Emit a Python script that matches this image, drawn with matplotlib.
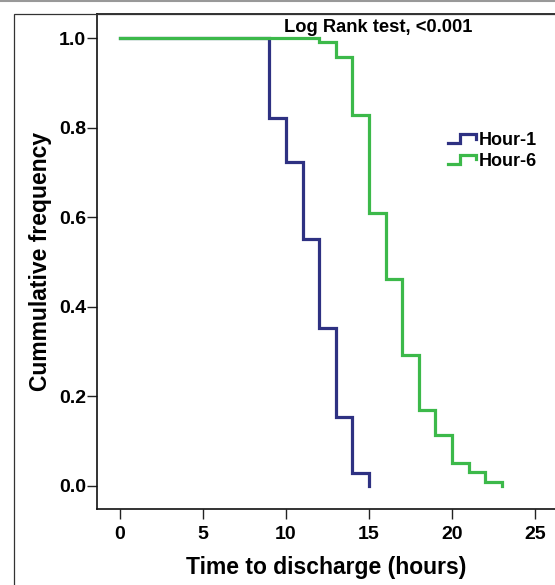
import matplotlib
matplotlib.use("Agg")
import matplotlib.pyplot as plt
from matplotlib.lines import Line2D
from matplotlib.legend_handler import HandlerBase
from matplotlib.patches import Rectangle

plt.rcParams['font.family'] = ['Liberation Sans', 'DejaVu Sans']
plt.rcParams['font.weight'] = 'bold'

# step data
hour1_t = [0, 9, 10, 11, 12, 13, 14, 15]
hour1_s = [1.0, 0.822, 0.725, 0.552, 0.354, 0.154, 0.030, 0.0]
hour6_t = [0, 12, 13, 14, 15, 16, 17, 18, 19, 20, 21, 22, 23]
hour6_s = [1.0, 0.993, 0.958, 0.828, 0.609, 0.463, 0.293, 0.169, 0.113, 0.051, 0.031, 0.010, 0.0]

xticks = [0, 5, 10, 15, 20, 25]
yticks = [0.0, 0.2, 0.4, 0.6, 0.8, 1.0]

c1 = '#2e3182'
c6 = '#3cb94a'


class StepHandler(HandlerBase):
    # legend key drawn as a little step, like SPSS does
    def create_artists(self, legend, orig_handle, xdescent, ydescent,
                       width, height, fontsize, trans):
        x0 = -xdescent
        y0 = -ydescent
        xs = [x0, x0 + 0.45 * width, x0 + 0.45 * width, x0 + width, x0 + width]
        ys = [y0 + 0.15 * height, y0 + 0.15 * height, y0 + 0.85 * height,
              y0 + 0.85 * height, y0 + 0.5 * height]
        ln = Line2D(xs, ys, color=orig_handle.get_color(),
                    lw=orig_handle.get_linewidth(), solid_joinstyle='miter')
        ln.set_transform(trans)
        return [ln]


fig = plt.figure(figsize=(5.55, 5.85), dpi=100)
ax = fig.add_axes([97 / 555, 76 / 585, 458 / 555, 495 / 585])

l1, = ax.step(hour1_t, hour1_s, where='post', color=c1, lw=2.3,
              solid_joinstyle='miter', label='Hour-1')
l6, = ax.step(hour6_t, hour6_s, where='post', color=c6, lw=2.3,
              solid_joinstyle='miter', label='Hour-6')

ax.set_xlim(-1.386, 26.2)
ax.set_ylim(-0.0514, 1.0547)
ax.set_xticks(xticks)
ax.set_yticks(yticks)
ax.set_yticklabels([f'{v:.1f}' for v in yticks])
ax.tick_params(axis='both', direction='out', length=7.5, width=1,
               labelsize=14, color='#222222')
ax.tick_params(axis='y', pad=0.5)
ax.tick_params(axis='x', pad=5)
for lab in ax.get_xticklabels() + ax.get_yticklabels():
    lab.set_fontweight('bold')

ax.spines['right'].set_visible(False)
for s in ['left', 'bottom', 'top']:
    ax.spines[s].set_linewidth(1.2)
    ax.spines[s].set_color('#111111')

ax.set_xlabel('Time to discharge (hours)', fontsize=16.5, fontweight='bold')
ax.set_ylabel('Cummulative frequency', fontsize=16.5, fontweight='bold')
ax.xaxis.set_label_coords(0.5, -0.094)
ax.yaxis.set_label_coords(-0.099, 0.5)

leg = ax.legend(handles=[l1, l6], handler_map={Line2D: StepHandler()},
                loc='center left', bbox_to_anchor=(341.5 / 458, 358 / 495),
                frameon=False, fontsize=13, handlelength=1.55,
                handletextpad=0.2, labelspacing=0.2, borderpad=0)
for t in leg.get_texts():
    t.set_fontweight('bold')

fig.text(378.5 / 555, 1 - 28 / 585, 'Log Rank test, <0.001', ha='center',
         va='center', fontsize=13.2, fontweight='bold')

# outer frame of the exported chart
fig.add_artist(Rectangle((14 / 555, -0.05), 1.0, 1 - 14 / 585 + 0.05,
                         transform=fig.transFigure, fill=False,
                         edgecolor='#333333', lw=0.9))
fig.add_artist(Line2D([0, 1], [1 - 0.5 / 585, 1 - 0.5 / 585],
                      transform=fig.transFigure, color='#999999', lw=1.5))

fig.savefig('out.png', dpi=100)
